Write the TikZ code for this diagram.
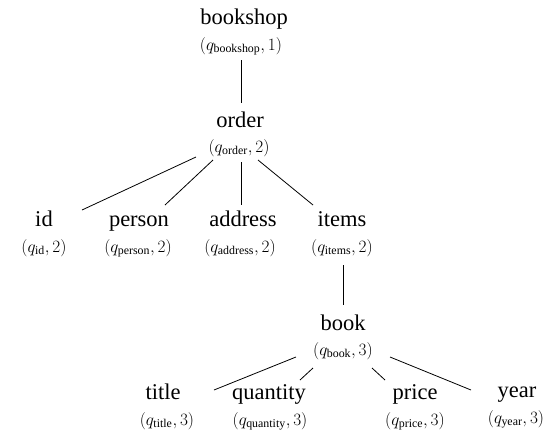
\documentclass[tikz,border=0pt]{standalone}
\usepackage{amsmath}
\usepackage{fontspec}
\setmainfont{Liberation Serif}
\begin{document}
\begin{tikzpicture}[x=1pt,y=-1pt,
  word/.style={font=\fontsize{22.5}{24}\selectfont, inner sep=0pt, anchor=base},
  sub/.style={font=\fontsize{17}{19}\selectfont, inner sep=0pt, anchor=base},
  edge/.style={line width=0.8pt}]
\useasboundingbox (0,0) rectangle (553,437);
% level 0
\node[word] (bookshop) at (244,24) {bookshop};
\node[sub] (bookshopq) at (241,50) {$(q_{\text{bookshop}},1)$};
% level 1
\node[word] (order) at (240,127) {order};
\node[sub] (orderq) at (239,152) {$(q_{\text{order}},2)$};
% level 2
\node[word] (id) at (44,226) {id};
\node[sub] (idq) at (44,252) {$(q_{\text{id}},2)$};
\node[word] (person) at (139,226) {person};
\node[sub] (personq) at (138,252) {$(q_{\text{person}},2)$};
\node[word] (address) at (243,226) {address};
\node[sub] (addressq) at (240,252) {$(q_{\text{address}},2)$};
\node[word] (items) at (342,226) {items};
\node[sub] (itemsq) at (342,252) {$(q_{\text{items}},2)$};
% level 3
\node[word] (book) at (343,330) {book};
\node[sub] (bookq) at (343,355) {$(q_{\text{book}},3)$};
% level 4
\node[word] (title) at (163,399) {title};
\node[sub] (titleq) at (167,425) {$(q_{\text{title}},3)$};
\node[word] (quantity) at (269,399) {quantity};
\node[sub] (quantityq) at (270,425) {$(q_{\text{quantity}},3)$};
\node[word] (price) at (415,399) {price};
\node[sub] (priceq) at (415,425) {$(q_{\text{price}},3)$};
\node[word] (year) at (517,397) {year};
\node[sub] (yearq) at (516,423) {$(q_{\text{year}},3)$};
% edges
\draw[edge] ([shift={(0,10)}]bookshopq.base) -- ([shift={(1,-24)}]order.base);
\draw[edge] ([shift={(-43,5)}]orderq.base) -- ([shift={(38,-16)}]id.base);
\draw[edge] ([shift={(-26,8)}]orderq.base) -- ([shift={(26,-21)}]person.base);
\draw[edge] ([shift={(2,10)}]orderq.base) -- ([shift={(-2,-21)}]address.base);
\draw[edge] ([shift={(19,8)}]orderq.base) -- ([shift={(-29,-21)}]items.base);
\draw[edge] ([shift={(1,13)}]itemsq.base) -- ([shift={(0,-25)}]book.base);
\draw[edge] ([shift={(-47,2)}]bookq.base) -- ([shift={(51,-9)}]title.base);
\draw[edge] ([shift={(-30,13)}]bookq.base) -- ([shift={(31,-19)}]quantity.base);
\draw[edge] ([shift={(29,13)}]bookq.base) -- ([shift={(-30,-19)}]price.base);
\draw[edge] ([shift={(47,2)}]bookq.base) -- ([shift={(-46,-7)}]year.base);
\end{tikzpicture}
\end{document}
